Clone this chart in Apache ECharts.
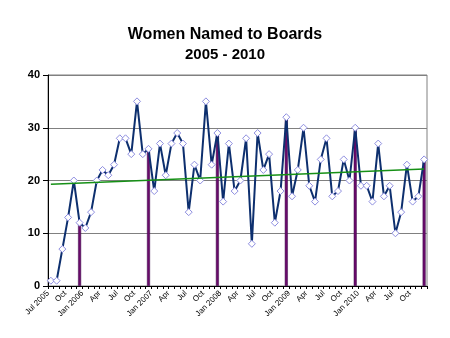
<!DOCTYPE html>
<html>
<head>
<meta charset="utf-8">
<style>
  html, body { margin: 0; padding: 0; background: #ffffff; }
  #chart { width: 450px; height: 338px; }
</style>
<script src="https://cdn.jsdelivr.net/npm/echarts@6/dist/echarts.min.js"></script>
</head>
<body>
<div id="chart"></div>
<script>
// Monthly count of women named to boards, Jul 2005 through Dec 2010
const monthlyCounts = [
  1, 1, 7, 13, 20, 12,                         // Jul-Dec 2005
  11, 14, 20, 22, 21, 23, 28, 28, 25, 35, 25, 26, // 2006
  18, 27, 21, 27, 29, 27, 14, 23, 20, 35, 23, 29, // 2007
  16, 27, 18, 20, 28, 8, 29, 22, 25, 12, 18, 32,  // 2008
  17, 22, 30, 19, 16, 24, 28, 17, 18, 24, 20, 30, // 2009
  19, 19, 16, 27, 17, 19, 10, 14, 23, 16, 17, 24  // 2010
];

// Month indexes (from Jul 2005) of the year-end bars
const yearEndIndex = [5, 17, 29, 41, 53, 65];

// Linear trend: value at first and last month
const trendEnds = [19.3, 22.2];

// Quarterly tick labels
const tickLabels = [
  'Jul 2005', 'Oct',
  'Jan 2006', 'Apr', 'Jul', 'Oct',
  'Jan 2007', 'Apr', 'Jul', 'Oct',
  'Jan 2008', 'Apr', 'Jul', 'Oct',
  'Jan 2009', 'Apr', 'Jul', 'Oct',
  'Jan 2010', 'Apr', 'Jul', 'Oct'
];

const yTicks = [0, 10, 20, 30, 40];

// Each month occupies one unit on the x axis; points sit mid-month
const lineData = monthlyCounts.map((v, i) => [i + 0.5, v]);
const barData = yearEndIndex.map(i => [i + 0.5, monthlyCounts[i]]);
const last = monthlyCounts.length - 1;
const trendData = [[0.5, trendEnds[0]], [last + 0.5, trendEnds[1]]];

const chart = echarts.init(document.getElementById('chart'), null, { renderer: 'canvas' });

chart.setOption({
  animation: false,
  backgroundColor: '#ffffff',
  title: [
    {
      text: 'Women Named to Boards',
      left: 'center',
      top: 22,
      textStyle: { fontFamily: 'Liberation Sans, Arial, sans-serif', fontSize: 16, fontWeight: 'bold', color: '#000' }
    },
    {
      text: '2005 - 2010',
      left: 'center',
      top: 42,
      textStyle: { fontFamily: 'Liberation Sans, Arial, sans-serif', fontSize: 15, fontWeight: 'bold', color: '#000' }
    }
  ],
  grid: { left: 48, right: 23, top: 75, bottom: 52, containLabel: false, show: true, borderColor: '#808080', borderWidth: 1 },
  xAxis: {
    type: 'value',
    min: 0,
    max: monthlyCounts.length,
    interval: 3,
    splitLine: { show: false },
    axisLine: { show: true, lineStyle: { color: '#000', width: 1 } },
    axisTick: { show: true, length: 3, lineStyle: { color: '#000' } },
    minorTick: { show: true, splitNumber: 3, length: 3, lineStyle: { color: '#000' } },
    axisLabel: {
      rotate: 45,
      margin: 6,
      fontFamily: 'Liberation Sans, Arial, sans-serif',
      fontSize: 8,
      color: '#000',
      showMaxLabel: false,
      formatter: v => {
        const k = Math.round(v / 3);
        return (Math.abs(v - k * 3) < 1e-6 && k < tickLabels.length) ? tickLabels[k] : '';
      }
    }
  },
  yAxis: {
    type: 'value',
    min: yTicks[0],
    max: yTicks[yTicks.length - 1],
    interval: 10,
    axisLine: { show: true, lineStyle: { color: '#000', width: 1 } },
    axisTick: { show: true, length: 5, lineStyle: { color: '#000' } },
    splitLine: { show: true, lineStyle: { color: '#808080', width: 1 } },
    axisLabel: {
      margin: 8,
      fontFamily: 'Liberation Sans, Arial, sans-serif',
      fontSize: 11,
      fontWeight: 'bold',
      color: '#000'
    }
  },
  series: [
    {
      name: 'Year end',
      type: 'bar',
      data: barData,
      barWidth: 3,
      z: 2,
      itemStyle: { color: '#6a0a6a', borderColor: '#3a0a4a', borderWidth: 0.5 }
    },
    {
      name: 'Women named',
      type: 'line',
      data: lineData,
      z: 3,
      symbol: 'diamond',
      symbolSize: 7,
      lineStyle: { color: '#0d2f6e', width: 2 },
      itemStyle: { color: '#ffffff', borderColor: '#8e8ee0', borderWidth: 1 }
    },
    {
      name: 'Trend',
      type: 'line',
      data: trendData,
      z: 4,
      symbol: 'none',
      lineStyle: { color: '#169016', width: 1.5 }
    }
  ]
});
</script>
</body>
</html>
